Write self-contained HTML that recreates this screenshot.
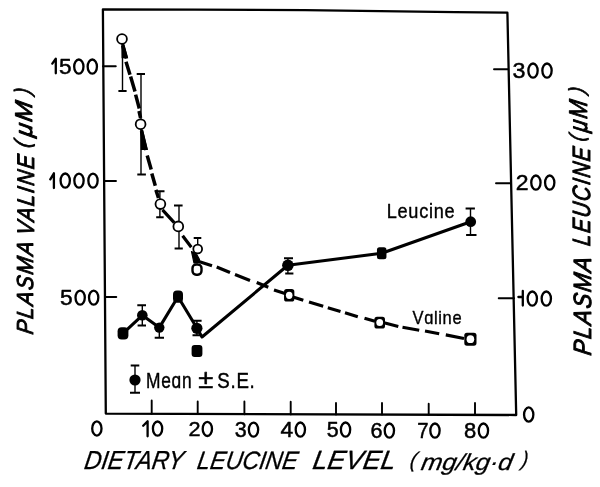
<!DOCTYPE html>
<html><head><meta charset="utf-8"><style>
html,body{margin:0;padding:0;background:#fff;}
svg{display:block;filter:grayscale(100%);}
.z{fill:none;stroke:none;}
text{font-family:"Liberation Sans",sans-serif;font-size:100px;fill:#000;stroke:#000;stroke-linejoin:round;}
</style></head><body>
<svg width="600" height="487" viewBox="0 0 600 487">
<rect width="600" height="487" fill="#fff"/>
<g fill="none" stroke="#000" stroke-linejoin="round" stroke-linecap="round">
<path d="M102.9 9.3 L195 9.7 L305 10.1 L455 12.2 L507.4 12.7 L516.2 415 L105.8 413.6 Z" stroke-width="2.3"/>
<path d="M103 66.2 H115.8 M104.2 181 H116 M105.3 297 H116.3" stroke-width="1.9"/>
<path d="M508.2 69.3 H494 M510.7 183.3 H496 M514 298.3 H498.7" stroke-width="1.9"/>
<path d="M151.7 400.5 V413.8 M197.7 401.5 V414 M244.4 401.5 V414.2 M290.7 401.7 V414.4 M336 403 V414.5 M382 403 V414.6 M428.7 403.7 V414.8 M475 403 V414.9" stroke-width="1.9"/>
</g>
<path d="M122.7 45.4L126.4 58.5M126 61.8L130 74.8M130.6 76.5L135 91.5M135.6 94.6L139.3 108.5M139 111L140.6 118M141.5 131L146 150M147.2 155.5L151.2 169.4M151.8 173.5L155.3 185.8M155.9 189.9L158.5 198" fill="none" stroke="#000" stroke-width="3.5" stroke-linecap="butt"/>
<path d="M162.5 209.8L174.2 222.6M182.6 235.7L191.3 247.2M197.3 261L212 265.8M216.7 267L230 272.5M235 274.6L250 280.4M256.7 282.5L268.3 287.2M274 290L285 293.6M293 297L303.3 300.3M309 302L323.2 306.3M327.8 307.8L340.5 311.5M345 312.8L357.8 316.8M364.5 318.3L375 321.3M384 322.8L398.3 326.5M402.5 327.2L419.2 330.2M425 331L439.2 333.8M445.8 334.9L464 338.5" fill="none" stroke="#000" stroke-width="3.2" stroke-linecap="butt"/>
<path d="M121.3 43.5 L124.2 43.5 L128.2 58.3 L121.6 58.3 Z M140.3 129.5 L143 129.5 L148 150 L140.8 150 Z" fill="#000"/>
<path d="M191.5 251.5 L196.5 254 L199.5 259.5 L197.5 263 L194 263 Z" fill="#000" stroke="#000" stroke-width="1.2" stroke-linejoin="round"/>
<path d="M123 333.3 L142.3 315.3 L159.3 327.6 L178 296.7 L196.9 328 L202 337 L287.9 265.3 L381.7 253.3 L470.7 221.7" fill="none" stroke="#000" stroke-width="3.1" stroke-linejoin="round"/>
<path d="M122.5 39V91M141 74V174.6M159.9 191.3V217.2M179 205.5V248.6M197.7 238.1V249M142.3 305.3V325.6M159.3 327.6V337.7M196.9 320.8V335.2M287.9 258.2V273.5M470.5 208.5V234.9M135 365.6V392.7" fill="none" stroke="#000" stroke-width="1.4"/>
<path d="M118.4 91H126.6M136.7 74H145M137.3 174.6H145.9M155.5 191.3H164.5M156.2 217.2H163.6M174 205.5H182.6M174.6 248.6H182.8M193.7 238.1H201.3M137.3 305.3H146M137.6 325.6H146M154.7 337.7H164M192.8 320.8H201.6M192.5 335.2H200.8M284 258.2H293M285.2 273.5H293.4M465.6 208.5H474.9M466.1 234.9H476.5M130.7 365.6H139.3M130 392.7H140" fill="none" stroke="#000" stroke-width="2.0"/>
<g fill="#fff" stroke="#000" stroke-width="1.8">
<circle cx="122" cy="39" r="4.9"/>
<circle cx="140.6" cy="124.2" r="4.9"/>
<circle cx="160.4" cy="204.1" r="4.9"/>
<circle cx="178.3" cy="226.4" r="4.9"/>
<circle cx="197.7" cy="249" r="4.4"/>
</g>
<g fill="#fff" stroke="#000" stroke-width="2.4">
<rect x="192.5" y="264.5" width="9" height="10.2" rx="3.6"/>
</g>
<rect x="284.05" y="289.1" width="10.3" height="12.4" rx="2.6" fill="#000"/>
<ellipse cx="289.2" cy="295.3" rx="3.3" ry="3.6" fill="#fff"/>
<rect x="374.4" y="316.7" width="10.6" height="11.8" rx="2.6" fill="#000"/>
<ellipse cx="379.7" cy="322.6" rx="3.4" ry="3.5" fill="#fff"/>
<rect x="464.3" y="332.7" width="12.2" height="13" rx="2.6" fill="#000"/>
<ellipse cx="470.4" cy="339.2" rx="3.8" ry="3.9" fill="#fff"/>
<g fill="#000">
<rect x="117.6" y="327.2" width="10.8" height="12.2" rx="4"/>
<rect x="173" y="290.6" width="10" height="12.2" rx="4"/>
<rect x="191.6" y="345.1" width="10.8" height="11.8" rx="3"/>
<rect x="376.95" y="247.3" width="9.5" height="12" rx="2.5"/>
<circle cx="142.3" cy="315.3" r="5.3"/>
<circle cx="159.3" cy="327.6" r="5.2"/>
<circle cx="196.9" cy="328.3" r="5.6"/>
<circle cx="287.9" cy="265.3" r="5.8"/>
<circle cx="470.7" cy="221.7" r="5.4"/>
<circle cx="135" cy="380" r="5.6"/>
</g><g fill="none" stroke="#000" stroke-width="2.3"><ellipse cx="78.83" cy="66.57" rx="4.65" ry="7.05"/><ellipse cx="92.30" cy="66.57" rx="4.65" ry="7.05"/><ellipse cx="533.01" cy="70.57" rx="4.65" ry="7.05"/><ellipse cx="547.01" cy="70.57" rx="4.65" ry="7.05"/><ellipse cx="65.23" cy="180.54" rx="4.65" ry="7.05"/><ellipse cx="78.99" cy="180.58" rx="4.65" ry="7.05"/><ellipse cx="92.99" cy="180.58" rx="4.65" ry="7.05"/><ellipse cx="535.90" cy="182.57" rx="4.65" ry="7.05"/><ellipse cx="549.72" cy="182.57" rx="4.65" ry="7.05"/><ellipse cx="80.16" cy="297.59" rx="4.65" ry="7.05"/><ellipse cx="93.67" cy="297.58" rx="4.65" ry="7.05"/><ellipse cx="532.30" cy="298.57" rx="4.65" ry="7.05"/><ellipse cx="546.30" cy="298.57" rx="4.65" ry="7.05"/><ellipse cx="528.71" cy="414.52" rx="4.65" ry="7.05"/><ellipse cx="96.86" cy="428.48" rx="4.65" ry="7.05"/><ellipse cx="157.56" cy="428.53" rx="4.65" ry="7.05"/><ellipse cx="207.35" cy="428.96" rx="4.65" ry="7.05"/><ellipse cx="253.51" cy="429.58" rx="4.65" ry="7.05"/><ellipse cx="300.34" cy="429.53" rx="4.65" ry="7.05"/><ellipse cx="345.53" cy="429.55" rx="4.65" ry="7.05"/><ellipse cx="389.37" cy="430.56" rx="4.65" ry="7.05"/><ellipse cx="434.97" cy="430.57" rx="4.65" ry="7.05"/><ellipse cx="483.42" cy="430.57" rx="4.65" ry="7.05"/></g>

<path d="M52.3 63.6 L55.8 58.6 V73.3 M50.3 179.3 L53.9 173.3 V188.1 M518.4 297 H522.8 M522.8 290.9 V305.6 M143.2 425.8 L147.6 421.3 V436.3" fill="none" stroke="#000" stroke-width="2.3" stroke-linecap="round" stroke-linejoin="round"/>
<g transform="matrix(0.2260 0.0000 0.0000 0.2192 59.1219 73.5616)"><text letter-spacing="4" stroke-width="2.2">5<tspan class="z">0</tspan><tspan class="z">0</tspan></text></g>
<g transform="matrix(0.2320 0.0000 0.0000 0.2192 58.8041 188.2616)"><text letter-spacing="4" stroke-width="2.2"><tspan class="z">0</tspan><tspan class="z">0</tspan><tspan class="z">0</tspan></text></g>
<g transform="matrix(0.2284 0.0000 0.0000 0.2274 60.0148 304.8452)"><text letter-spacing="4" stroke-width="2.2">5<tspan class="z">0</tspan><tspan class="z">0</tspan></text></g>
<g transform="matrix(0.2331 0.0000 0.0000 0.2288 512.6006 77.5425)"><text letter-spacing="4" stroke-width="2.2">3<tspan class="z">0</tspan><tspan class="z">0</tspan></text></g>
<g transform="matrix(0.2298 0.0000 0.0000 0.2192 515.7810 190.2616)"><text letter-spacing="4" stroke-width="2.2">2<tspan class="z">0</tspan><tspan class="z">0</tspan></text></g>
<g transform="matrix(0.2339 0.0000 0.0000 0.2288 525.7982 306.2425)"><text letter-spacing="4" stroke-width="2.2"><tspan class="z">0</tspan><tspan class="z">0</tspan></text></g>
<g transform="matrix(0.2400 0.0000 0.0000 0.2288 521.9800 422.2425)"><text letter-spacing="4" stroke-width="2.2"><tspan class="z">0</tspan></text></g>
<g transform="matrix(0.2460 0.0000 0.0000 0.2329 90.0620 437.3342)"><text letter-spacing="4" stroke-width="2.2"><tspan class="z">0</tspan></text></g>
<g transform="matrix(0.2340 0.0000 0.0000 0.2288 150.8980 436.4425)"><text letter-spacing="4" stroke-width="2.2"><tspan class="z">0</tspan></text></g>
<g transform="matrix(0.2167 0.0000 0.0000 0.2096 188.4333 435.8808)"><text letter-spacing="4" stroke-width="2.2">2<tspan class="z">0</tspan></text></g>
<g transform="matrix(0.2147 0.0000 0.0000 0.2192 234.6560 436.5616)"><text letter-spacing="4" stroke-width="2.2">3<tspan class="z">0</tspan></text></g>
<g transform="matrix(0.2279 0.0000 0.0000 0.2288 280.4721 436.5425)"><text letter-spacing="4" stroke-width="2.2">4<tspan class="z">0</tspan></text></g>
<g transform="matrix(0.2147 0.0000 0.0000 0.2288 326.6560 437.2425)"><text letter-spacing="4" stroke-width="2.2">5<tspan class="z">0</tspan></text></g>
<g transform="matrix(0.2167 0.0000 0.0000 0.2192 370.4333 437.5616)"><text letter-spacing="4" stroke-width="2.2">6<tspan class="z">0</tspan></text></g>
<g transform="matrix(0.2037 0.0000 0.0000 0.2192 417.1852 437.8616)"><text letter-spacing="4" stroke-width="2.2">7<tspan class="z">0</tspan></text></g>
<g transform="matrix(0.2202 0.0000 0.0000 0.2274 464.0394 437.8452)"><text letter-spacing="4" stroke-width="2.2">8<tspan class="z">0</tspan></text></g>
<g transform="matrix(0.1813 0.0000 0.0000 0.1974 386.7308 217.6053)"><text letter-spacing="4" stroke-width="2">Leucine</text></g>
<g transform="matrix(0.1651 0.0000 0.0000 0.1855 412.4651 323.9289)"><text letter-spacing="4" stroke-width="2">Vɑline</text></g>
<g transform="matrix(0.1736 0.0000 0.0000 0.2125 146.0848 387.5750)"><text letter-spacing="4" stroke-width="2">Meɑn</text></g>
<g transform="matrix(0.2745 0.0000 0.0000 0.2581 198.1510 388.4419)"><text letter-spacing="4" stroke-width="2">±</text></g>
<g transform="matrix(0.1868 0.0000 0.0000 0.2192 217.2529 388.2616)"><text letter-spacing="4" stroke-width="2">S.E.</text></g>
<g transform="matrix(0.2345 0.0000 0.0000 0.2609 83.5966 469.0000)"><text transform="skewX(-10)" font-style="italic" letter-spacing="0" stroke-width="1.2">DIETARY</text></g>
<g transform="matrix(0.2320 0.0000 0.0000 0.2507 196.3041 468.5493)"><text transform="skewX(-10)" font-style="italic" letter-spacing="0" stroke-width="1.2">LEUCINE</text></g>
<g transform="matrix(0.2653 0.0000 0.0000 0.2638 311.8040 469.2000)"><text transform="skewX(-10)" font-style="italic" letter-spacing="0" stroke-width="1.2">LEVEL</text></g>
<g transform="matrix(0.2060 0.0000 0.0000 0.2138 409.1700 466.8096)"><text transform="skewX(-10)" font-style="italic" letter-spacing="0" stroke-width="1.2">(</text></g>
<g transform="matrix(0.2524 0.0000 0.0000 0.2319 420.1476 469.7298)"><text transform="skewX(-10)" font-style="italic" letter-spacing="0" stroke-width="1.2">mg/kg·d</text></g>
<g transform="matrix(0.1860 0.0000 0.0000 0.2096 520.9040 465.8989)"><text transform="skewX(-10)" font-style="italic" letter-spacing="0" stroke-width="1.2">)</text></g>
<g transform="matrix(0.0000 -0.2077 0.2320 0.0000 33.1040 335.0000)"><text transform="skewX(-10)" font-style="italic" letter-spacing="8" stroke-width="4.0">PLASMA</text></g>
<g transform="matrix(0.0000 -0.2057 0.2397 0.0000 33.5205 236.3080)"><text transform="skewX(-10)" font-style="italic" letter-spacing="8" stroke-width="4.0">VALINE</text></g>
<g transform="matrix(0.0000 -0.1782 0.2227 0.0000 29.6784 95.0927)"><text transform="skewX(-10)" font-style="italic" letter-spacing="8" stroke-width="4.0">)</text></g>
<g transform="matrix(0.0000 -0.2385 0.2424 0.0000 32.4098 137.5923)"><text transform="skewX(-10)" font-style="italic" letter-spacing="8" stroke-width="4.0">μM</text></g>
<g transform="matrix(0.0000 -0.2000 0.2227 0.0000 30.3784 148.3000)"><text transform="skewX(-10)" font-style="italic" letter-spacing="8" stroke-width="4.0">(</text></g>
<g transform="matrix(0.0000 -0.2199 0.2493 0.0000 591.4520 356.0000)"><text transform="skewX(-10)" font-style="italic" letter-spacing="8" stroke-width="4.0">PLASMA</text></g>
<g transform="matrix(0.0000 -0.2044 0.2493 0.0000 590.1520 246.6000)"><text transform="skewX(-10)" font-style="italic" letter-spacing="8" stroke-width="4.0">LEUCINE</text></g>
<g transform="matrix(0.0000 -0.1782 0.2165 0.0000 583.5206 94.0927)"><text transform="skewX(-10)" font-style="italic" letter-spacing="8" stroke-width="4.0">)</text></g>
<g transform="matrix(0.0000 -0.2148 0.2565 0.0000 587.1130 132.7817)"><text transform="skewX(-10)" font-style="italic" letter-spacing="8" stroke-width="4.0">μM</text></g>
<g transform="matrix(0.0000 -0.1855 0.2093 0.0000 583.6866 141.8418)"><text transform="skewX(-10)" font-style="italic" letter-spacing="8" stroke-width="4.0">(</text></g>
</svg></body></html>
